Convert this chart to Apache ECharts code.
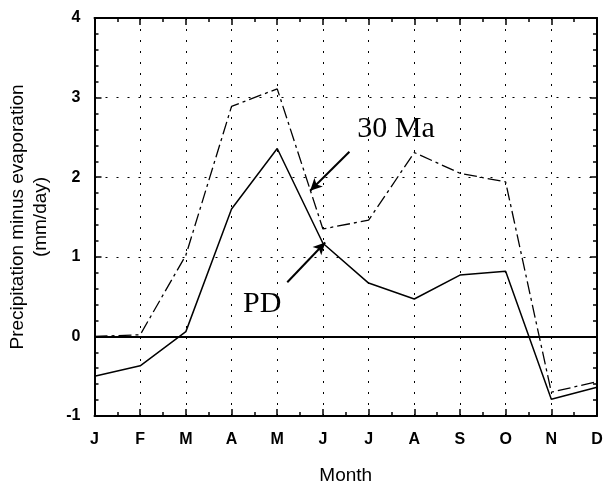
<!DOCTYPE html>
<html><head><meta charset="utf-8">
<script src="https://cdn.jsdelivr.net/npm/echarts@6/dist/echarts.min.js"></script>
<style>html,body{margin:0;padding:0;background:#fff}#c{width:604px;height:484px}</style>
</head><body><div id="c"></div>
<script>
const months = ['J','F','M','A','M','J','J','A','S','O','N','D'];
const pdValues = [-0.50,-0.37,0.06,1.60,2.36,1.17,0.67,0.47,0.77,0.82,-0.79,-0.64];
const ma30Values = [0.00,0.02,1.02,2.89,3.11,1.35,1.46,2.31,2.05,1.94,-0.70,-0.57];
const yTickLabels = ['-1','0','1','2','3','4'];
// annotation anchors in data units [monthIndex, value]
const label30Ma = [6.60, 2.61];
const labelPD = [3.67, 0.41];
const arrow30Ma = [[5.58, 2.32], [4.72, 1.83]];
const arrowPD = [[4.22, 0.68], [5.05, 1.18]];

const toPairs = vals => vals.map((v, i) => [i, v]);
const font = 'Liberation Sans, Arial, Helvetica, sans-serif';
const serif = 'Liberation Serif, Times New Roman, serif';
const dotted = {color: '#000', width: 1, type: [2, 9]};

const chart = echarts.init(document.getElementById('c'), null, {renderer: 'canvas'});
const baseX = {
  type: 'value', min: 0, max: 11, interval: 1,
  axisLine: {show: true, onZero: false, lineStyle: {color: '#000', width: 2}},
  axisTick: {show: true, inside: true, length: 7, lineStyle: {color: '#000', width: 1.5}},
  minorTick: {show: true, splitNumber: 2, length: 4, lineStyle: {color: '#000', width: 1.5}},
};
const baseY = {
  type: 'value', min: -1, max: 4, interval: 1,
  axisLine: {show: true, onZero: false, lineStyle: {color: '#000', width: 2}},
  axisTick: {show: true, inside: true, length: 7, lineStyle: {color: '#000', width: 1.5}},
  minorTick: {show: true, splitNumber: 5, length: 4, lineStyle: {color: '#000', width: 1.5}},
};
chart.setOption({
  animation: false,
  backgroundColor: '#fff',
  grid: {left: 94.5, right: 7, top: 18, bottom: 68, outerBoundsMode: 'none', containLabel: false},
  xAxis: [
    Object.assign({}, baseX, {
      position: 'bottom',
      name: 'Month', nameLocation: 'middle', nameGap: 50,
      nameTextStyle: {fontFamily: font, fontSize: 19, color: '#000'},
      axisLabel: {show: true, margin: 16, fontFamily: font, fontWeight: 'bold', fontSize: 16, color: '#000',
        formatter: v => months[Math.round(v)]},
      splitLine: {show: true, lineStyle: dotted},
    }),
    Object.assign({}, baseX, {position: 'top', axisLabel: {show: false}, splitLine: {show: false}})
  ],
  yAxis: [
    Object.assign({}, baseY, {
      position: 'left',
      name: 'Precipitation minus evaporation\n(mm/day)', nameLocation: 'middle', nameGap: 42, nameRotate: 90,
      nameTextStyle: {fontFamily: font, fontSize: 19, lineHeight: 23, color: '#000', align: 'center'},
      axisLabel: {show: true, margin: 14, fontFamily: font, fontWeight: 'bold', fontSize: 16, color: '#000',
        formatter: v => yTickLabels[Math.round(v) + 1]},
      splitLine: {show: true, lineStyle: dotted},
    }),
    Object.assign({}, baseY, {position: 'right', axisLabel: {show: false}, splitLine: {show: false}})
  ],
  series: [
    {
      name: 'PD', type: 'line', data: toPairs(pdValues), symbol: 'none',
      lineStyle: {color: '#000', width: 1.5},
      markLine: {
        silent: true, symbol: ['none', 'arrow'], symbolSize: [9, 12],
        label: {show: false},
        lineStyle: {color: '#000', width: 2, type: 'solid'},
        data: [
          [{coord: arrow30Ma[0]}, {coord: arrow30Ma[1]}],
          [{coord: arrowPD[0]}, {coord: arrowPD[1]}]
        ]
      },
      markPoint: {
        silent: true, symbol: 'circle', symbolSize: 0,
        label: {show: true, position: 'inside', fontFamily: serif, fontSize: 30, color: '#000',
          formatter: p => p.name},
        data: [
          {name: '30 Ma', coord: label30Ma},
          {name: 'PD', coord: labelPD}
        ]
      }
    },
    {
      name: '30 Ma', type: 'line', data: toPairs(ma30Values), symbol: 'none',
      lineStyle: {color: '#000', width: 1.3, type: [13, 4, 3, 4]},
      markLine: {
        silent: true, symbol: 'none', label: {show: false},
        lineStyle: {color: '#000', width: 2, type: 'solid'},
        data: [{yAxis: 0}]
      }
    }
  ]
});
</script></body></html>
